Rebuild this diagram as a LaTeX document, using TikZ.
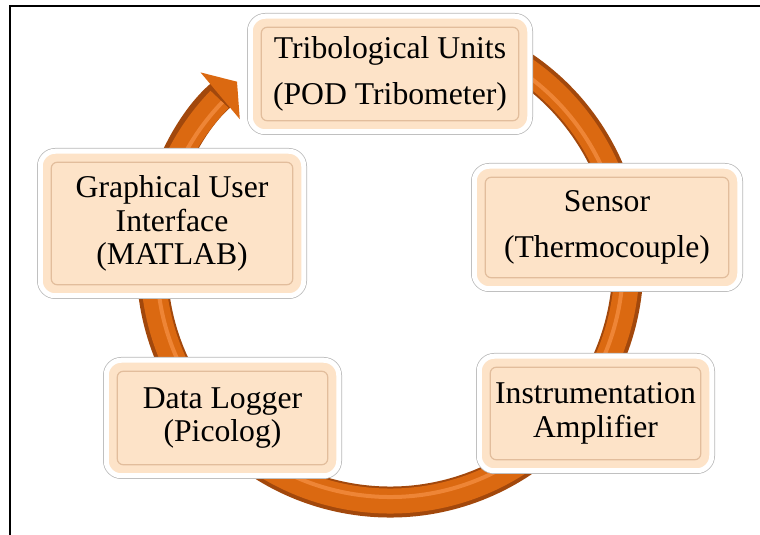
\documentclass[tikz,border=0pt]{standalone}
\usepackage{fontspec}
\setmainfont{Liberation Serif}
\usetikzlibrary{arrows.meta}
\definecolor{peach}{HTML}{FDE3C8}
\definecolor{peachline}{HTML}{E2BD9C}
\definecolor{ringdark}{HTML}{A2480C}
\definecolor{ringmid}{HTML}{DB6911}
\definecolor{ringlight}{HTML}{EE8536}
\begin{document}
\begin{tikzpicture}[x=1pt, y=1pt,
        unitbox/.style={rounded corners=15pt, fill=peach, draw=white, line width=5pt,
            preaction={draw=black!28, line width=6.5pt},
            path picture={\draw[peachline, line width=1.2pt, rounded corners=6pt]
                ([shift={(11pt,11pt)}]path picture bounding box.south west) rectangle
                ([shift={(-11pt,-11pt)}]path picture bounding box.north east);},
            align=center, inner sep=0pt, font=\fontsize{31.7}{33.5}\selectfont}]
        \useasboundingbox (0,0) rectangle (760,535);

        % Frame
        \draw[line width=1.6pt] (10,0) -- (10,529) -- (760,529);

        % Ring with arrow
        \begin{scope}
            \draw[ringdark, line width=31pt, -{Triangle[length=22pt, width=60pt, color=ringmid]}]
                (390,271) ++(80:238) arc[start angle=80, end angle=-230, radius=238];
            \draw[ringmid, line width=25pt] (390,271) ++(80:237) arc[start angle=80, end angle=-224, radius=237];
            \draw[ringlight, line width=4pt] (390,271) ++(80:233) arc[start angle=80, end angle=-224, radius=233];
        \end{scope}

        % Units
        \node[unitbox, minimum width=279.5, minimum height=115.5] (tribo) at (390,461)
            {Tribological Units\\[13pt](POD Tribometer)};
        \node[unitbox, minimum width=265.5, minimum height=122.5] (sensor) at (607,307.5)
            {Sensor\\[13pt](Thermocouple)};
        \node[unitbox, minimum width=232.5, minimum height=114.5] (amp) at (595.5,121.5)
            {Instrumentation\\Amplifier};
        \node[unitbox, minimum width=232.5, minimum height=115.5] (logger) at (222.5,117)
            {Data Logger\\(Picolog)};
        \node[unitbox, minimum width=263.5, minimum height=144.5] (gui) at (172,311.5)
            {Graphical User\\Interface\\(MATLAB)};
    \end{tikzpicture}
\end{document}
